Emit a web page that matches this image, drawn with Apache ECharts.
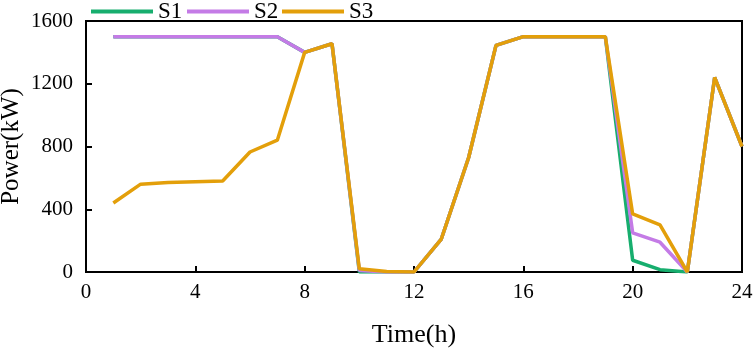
<!DOCTYPE html>
<html><head><meta charset="utf-8">
<script src="https://cdn.jsdelivr.net/npm/echarts@6/dist/echarts.min.js"></script>
<style>html,body{margin:0;padding:0;background:#fff}#c{width:754px;height:349px}</style>
</head><body><div id="c"></div>
<script>
const hours = [1,2,3,4,5,6,7,8,9,10,11,12,13,14,15,16,17,18,19,20,21,22,23,24];
const s1 = [1500,1500,1500,1500,1500,1500,1500,1400,1455,0,0,0,210,730,1445,1500,1500,1500,1500,75,15,0,1240,800];
const s2 = [1500,1500,1500,1500,1500,1500,1500,1400,1455,10,0,0,210,730,1445,1500,1500,1500,1500,250,190,0,1240,800];
const s3 = [440,560,570,575,580,765,840,1400,1455,20,3,0,210,730,1445,1500,1500,1500,1500,370,300,0,1240,800];
const seriesNames = ['S1','S2','S3'];
const colors = ['#17ae6e','#c47be6','#e39f0a'];
const xTicks = [0,4,8,12,16,20,24];
const yTicks = [0,400,800,1200,1600];
const font = 'Liberation Serif';
const chart = echarts.init(document.getElementById('c'));
const pair = arr => hours.map((h,i)=>[h,arr[i]]);
const legendLefts = [86,182,277];
chart.setOption({
  animation:false,
  textStyle:{fontFamily:font},
  color:colors,
  legend:seriesNames.map((n,i)=>({left:legendLefts[i],top:-5,itemWidth:62,itemHeight:4,icon:'rect',
    textStyle:{fontFamily:font,fontSize:23,color:'#000'},data:[n]})),
  grid:{left:86,right:12,top:21,bottom:77,show:true,borderColor:'#000',borderWidth:2,
    containLabel:false,outerBoundsMode:'none'},
  xAxis:{type:'value',min:xTicks[0],max:xTicks[xTicks.length-1],interval:4,
    name:'Time(h)',nameLocation:'middle',nameGap:50,nameMoveOverlap:false,
    nameTextStyle:{fontFamily:font,fontSize:26,color:'#000'},
    axisLine:{lineStyle:{color:'#000',width:2}},
    axisTick:{inside:true,length:6,lineStyle:{color:'#000',width:2}},
    axisLabel:{fontFamily:font,fontSize:21,color:'#000',margin:10},
    splitLine:{show:false}},
  yAxis:{type:'value',min:yTicks[0],max:yTicks[yTicks.length-1],interval:400,
    name:'Power(kW)',nameLocation:'middle',nameGap:62,nameMoveOverlap:false,
    nameTextStyle:{fontFamily:font,fontSize:25,color:'#000'},
    axisLine:{show:true,lineStyle:{color:'#000',width:2}},
    axisTick:{show:true,inside:true,length:6,lineStyle:{color:'#000',width:2}},
    axisLabel:{fontFamily:font,fontSize:21,color:'#000',margin:13,formatter:v=>String(v)},
    splitLine:{show:false}},
  series:[s1,s2,s3].map((d,i)=>({
    name:seriesNames[i],type:'line',data:pair(d),showSymbol:false,symbol:'none',
    lineStyle:{width:3.5,color:colors[i]},itemStyle:{color:colors[i]},z:2+i
  }))
});
</script></body></html>
